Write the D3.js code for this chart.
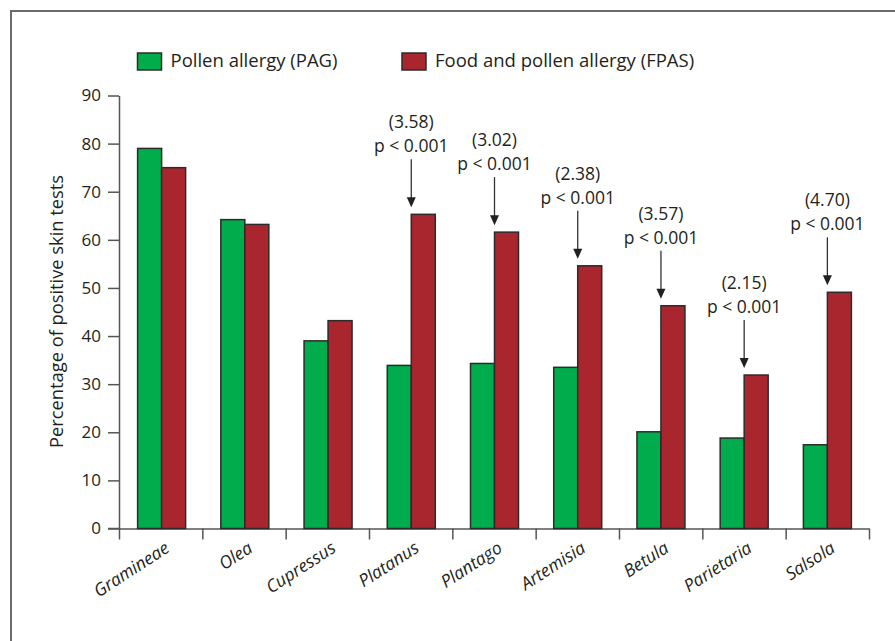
<!DOCTYPE html>
<html>
<head>
<meta charset="utf-8">
<script src="https://cdn.jsdelivr.net/npm/d3@7"></script>
<style>
    body { margin: 0; background: #fff; }
    text { font-family: "Open Sans", sans-serif; fill: #231f20; }
</style>
</head>
<body>
<div id="canvas"></div>
<script>
"use strict"

/* Data */
let categories = ["Gramineae", "Olea", "Cupressus", "Platanus", "Plantago",
                  "Artemisia", "Betula", "Parietaria", "Salsola"];
let pagValues  = [79.0, 64.2, 39.0, 33.9, 34.3, 33.5, 20.1, 18.8, 17.4];
let fpasValues = [75.0, 63.2, 43.2, 65.3, 61.6, 54.6, 46.3, 31.9, 49.1];
let seriesNames = ["Pollen allergy (PAG)", "Food and pollen allergy (FPAS)"];
let annotated  = ["Platanus", "Plantago", "Artemisia", "Betula", "Parietaria", "Salsola"];
let oddsLabels = ["(3.58)", "(3.02)", "(2.38)", "(3.57)", "(2.15)", "(4.70)"];
let pLabels    = ["p < 0.001", "p < 0.001", "p < 0.001", "p < 0.001", "p < 0.001", "p < 0.001"];
let yTicks = [0, 10, 20, 30, 40, 50, 60, 70, 80, 90];

/* Drawing config */
let svgWidth = 895;
let svgHeight = 641;
let plotLeft = 120, plotRight = 869;
let plotTop = 95.5, plotBottom = 528.5;
let barW = 24;
let green = "#00ac4c";
let red = "#a9262f";
let axisColor = "#555";

let svg = d3.select("#canvas")
    .append("svg")
    .attr("width", svgWidth)
    .attr("height", svgHeight);

/* frame, only top and left edges are visible */
svg.append("rect")
    .attr("x", 11)
    .attr("y", 11)
    .attr("width", 1000)
    .attr("height", 1000)
    .attr("fill", "none")
    .attr("stroke", "#6b6b6b")
    .attr("stroke-width", 2);

/* scales */
let xScale = d3.scaleBand()
    .domain(categories)
    .range([plotLeft, plotRight]);

let yScale = d3.scaleLinear()
    .domain([0, 90])
    .range([plotBottom, plotTop]);

let center = function (c) { return xScale(c) + xScale.bandwidth() / 2; };

/* y axis */
let yAxis = svg.append("g")
    .attr("transform", "translate(" + (plotLeft - 1) + ",0)")
    .call(d3.axisLeft(yScale)
        .tickValues(yTicks)
        .tickSize(11)
        .tickSizeOuter(0)
        .tickPadding(7));
yAxis.select(".domain").attr("stroke", axisColor).attr("stroke-width", 1.5);
yAxis.selectAll(".tick line").attr("stroke", axisColor).attr("stroke-width", 1.5);
yAxis.selectAll(".tick text")
    .style("font-family", "'Open Sans', sans-serif")
    .style("font-size", "17px")
    .attr("fill", "#231f20");

/* x axis: ticks sit on the category boundaries */
let boundary = d3.scaleLinear()
    .domain([0, categories.length])
    .range([plotLeft - 1, plotRight]);

let xAxis = svg.append("g")
    .attr("transform", "translate(0," + plotBottom + ")")
    .call(d3.axisBottom(boundary)
        .tickValues(d3.range(categories.length + 1))
        .tickFormat("")
        .tickSize(11)
        .tickSizeOuter(0));
xAxis.select(".domain").attr("stroke", axisColor).attr("stroke-width", 1.5);
xAxis.selectAll(".tick line").attr("stroke", axisColor).attr("stroke-width", 1.5);

// little stub of the baseline left of the y axis
svg.append("line")
    .attr("x1", 108)
    .attr("x2", plotLeft - 1)
    .attr("y1", plotBottom)
    .attr("y2", plotBottom)
    .attr("stroke", axisColor)
    .attr("stroke-width", 1.5);

/* bars */
svg.selectAll(".pag")
    .data(categories)
    .join("rect")
    .attr("class", "pag")
    .attr("x", function (c) { return center(c) - barW; })
    .attr("y", function (c, i) { return yScale(pagValues[i]); })
    .attr("width", barW)
    .attr("height", function (c, i) { return plotBottom - yScale(pagValues[i]); })
    .attr("fill", green)
    .attr("stroke", "#2b2b2b")
    .attr("stroke-width", 1.5);

svg.selectAll(".fpas")
    .data(categories)
    .join("rect")
    .attr("class", "fpas")
    .attr("x", function (c) { return center(c); })
    .attr("y", function (c, i) { return yScale(fpasValues[i]); })
    .attr("width", barW)
    .attr("height", function (c, i) { return plotBottom - yScale(fpasValues[i]); })
    .attr("fill", red)
    .attr("stroke", "#2b2b2b")
    .attr("stroke-width", 1.5);

/* category labels, slanted */
svg.selectAll(".cat")
    .data(categories)
    .join("text")
    .attr("class", "cat")
    .attr("text-anchor", "end")
    .attr("transform", function (c) {
        return "translate(" + (center(c) + 9) + ",551) rotate(-33)";
    })
    .style("font-style", "italic")
    .style("font-size", "17.5px")
    .text(function (c) { return c; });

/* y axis title */
svg.append("text")
    .attr("text-anchor", "middle")
    .attr("transform", "translate(63," + 311.5 + ") rotate(-90)")
    .style("font-size", "18.3px")
    .text("Percentage of positive skin tests");

/* legend */
let legendX = [137.5, 402];
seriesNames.forEach(function (name, i) {
    svg.append("rect")
        .attr("x", legendX[i])
        .attr("y", 53)
        .attr("width", 24)
        .attr("height", 17)
        .attr("fill", i === 0 ? green : red)
        .attr("stroke", "#2b2b2b")
        .attr("stroke-width", 1.5);
    svg.append("text")
        .attr("x", legendX[i] + 33)
        .attr("y", 67)
        .style("font-size", "18.5px")
        .text(name);
});

/* odds ratio / p value annotations with arrows */
annotated.forEach(function (c, i) {
    let k = categories.indexOf(c);
    let cx = center(c);
    let tip = yScale(fpasValues[k]) - 7;
    let start = tip - 48;

    svg.append("line")
        .attr("x1", cx)
        .attr("x2", cx)
        .attr("y1", start)
        .attr("y2", tip - 8)
        .attr("stroke", "#333")
        .attr("stroke-width", 1.3);

    svg.append("path")
        .attr("d", "M" + (cx - 4.5) + "," + (tip - 10) + "L" + (cx + 4.5) + "," + (tip - 10) + "L" + cx + "," + tip + "Z")
        .attr("fill", "#231f20");

    svg.append("text")
        .attr("x", cx)
        .attr("y", start - 7)
        .attr("text-anchor", "middle")
        .style("font-size", "17.5px")
        .text(pLabels[i]);

    svg.append("text")
        .attr("x", cx)
        .attr("y", start - 31)
        .attr("text-anchor", "middle")
        .style("font-size", "17.5px")
        .text(oddsLabels[i]);
});
</script>
</body>
</html>
